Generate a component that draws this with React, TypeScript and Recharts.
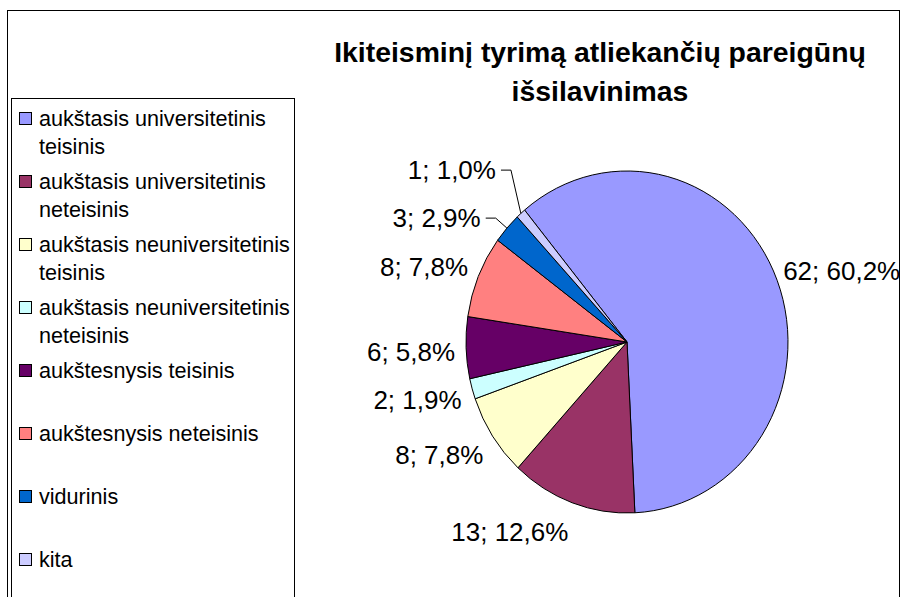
import React from 'react';
import { PieChart, Pie, Cell, Legend } from 'recharts';

const CATEGORIES = [
  'aukštasis universitetinis teisinis',
  'aukštasis universitetinis neteisinis',
  'aukštasis neuniversitetinis teisinis',
  'aukštasis neuniversitetinis neteisinis',
  'aukštesnysis teisinis',
  'aukštesnysis neteisinis',
  'vidurinis',
  'kita',
];
const COUNTS = [62, 13, 8, 2, 6, 8, 3, 1];
const COLORS = ['#9999FF', '#993366', '#FFFFCC', '#CCFFFF', '#660066', '#FF8080', '#0066CC', '#CCCCFF'];
const TITLE_LINES = ['Ikiteisminį tyrimą atliekančių pareigūnų', 'išsilavinimas'];

const FONT = '"Liberation Sans", Arial, sans-serif';
const CX = 627;
const CY = 342;
const RX = 161; // Excel stretched the pie a bit, so it is an ellipse
const RY = 171;
const START_ANGLE = 129.5;
const END_ANGLE = START_ANGLE - 360;
const LABEL_SIZE = 26;
const CLASH = 40;
const MIN_GAP = 48;

const pieData = CATEGORIES.map((name, i) => ({ name, value: COUNTS[i] }));

type Spot = {
  x: number;
  y: number;
  anchor: 'start' | 'end';
  c: number;
  s: number;
  ex: number;
  ey: number;
  lead: boolean;
  elbowX: number;
};

// outside-end labels, small neighbours get pulled out on a leader line
function placeLabels(): Spot[] {
  const total = COUNTS.reduce((a, b) => a + b, 0);
  let acc = 0;
  const spots: Spot[] = COUNTS.map((v) => {
    const mid = START_ANGLE + ((acc + v / 2) / total) * (END_ANGLE - START_ANGLE);
    acc += v;
    const r = (mid * Math.PI) / 180;
    const c = Math.cos(r);
    const s = Math.sin(r);
    const ex = CX + RX * c;
    const ey = CY - RY * s;
    const x = c < 0 ? ex + 11 * c : ex + 6;
    const y = ey - (s > 0 ? 34 : 28) * s + 3;
    return { c, s, ex, ey, x, y, anchor: c < 0 ? 'end' : 'start', lead: false, elbowX: 0 };
  });

  const left = spots.filter((p) => p.anchor === 'end').sort((a, b) => b.y - a.y);
  for (let k = 1; k < left.length; k++) {
    if (left[k - 1].y - left[k].y < CLASH) {
      left[k - 1].lead = true;
      left[k].lead = true;
    }
  }
  left.forEach((p) => {
    if (!p.lead) return;
    p.elbowX = CX + (RX + 15) * p.c;
    p.y = CY - (RY + 15) * p.s;
    p.x = p.elbowX - 15;
  });
  left.sort((a, b) => b.y - a.y);
  for (let k = 1; k < left.length; k++) {
    if (left[k - 1].y - left[k].y < MIN_GAP) left[k].y = left[k - 1].y - MIN_GAP;
  }
  return spots;
}

const SPOTS = placeLabels();

const fmt = (value: number, percent: number) =>
  `${value}; ${(percent * 100).toFixed(1).replace('.', ',')}%`;

const renderLabel = (props: any) => {
  const p = SPOTS[props.index];
  if (!p) return null;
  return (
    <g>
      {p.lead && (
        <polyline
          points={`${p.ex},${p.ey} ${p.elbowX},${p.y} ${p.elbowX - 10},${p.y}`}
          fill="none"
          stroke="#000"
          strokeWidth={1}
        />
      )}
      <text
        x={p.x}
        y={p.y + LABEL_SIZE * 0.358}
        textAnchor={p.anchor}
        fontSize={LABEL_SIZE}
        fontFamily={FONT}
        fill="#000"
      >
        {fmt(props.value, props.percent)}
      </text>
    </g>
  );
};

const EllipseSector = (props: any) => {
  const { cx, cy, outerRadius, startAngle, endAngle, fill } = props;
  const rx = outerRadius;
  const ry = (outerRadius * RY) / RX;
  const a0 = (startAngle * Math.PI) / 180;
  const a1 = (endAngle * Math.PI) / 180;
  const x0 = cx + rx * Math.cos(a0);
  const y0 = cy - ry * Math.sin(a0);
  const x1 = cx + rx * Math.cos(a1);
  const y1 = cy - ry * Math.sin(a1);
  const large = Math.abs(startAngle - endAngle) > 180 ? 1 : 0;
  return (
    <path
      d={`M${cx},${cy} L${x0},${y0} A${rx},${ry} 0 ${large} 1 ${x1},${y1} Z`}
      fill={fill}
      stroke="#000"
      strokeWidth={1}
      strokeLinejoin="round"
    />
  );
};

const LegendBox = () => (
  <div style={{ position: 'relative', width: '100%', height: '100%', fontFamily: FONT }}>
    {CATEGORIES.map((name, i) => (
      <div key={name}>
        <div
          style={{
            position: 'absolute',
            left: 7,
            top: 13 + 63 * i,
            width: 13,
            height: 13,
            boxSizing: 'border-box',
            border: '1px solid #000',
            background: COLORS[i],
          }}
        />
        <div
          style={{
            position: 'absolute',
            left: 27,
            top: 5.5 + 63 * i,
            width: 256,
            fontSize: 21.6,
            lineHeight: '28px',
            color: '#000',
          }}
        >
          {name}
        </div>
      </div>
    ))}
  </div>
);

export default function App() {
  return (
    <div
      style={{
        position: 'absolute',
        left: 0,
        top: 0,
        width: 902,
        height: 597,
        overflow: 'hidden',
        background: '#fff',
      }}
    >
      <div
        style={{
          position: 'absolute',
          left: 7,
          top: 10,
          width: 893,
          height: 620,
          boxSizing: 'border-box',
          border: '1px solid #000',
        }}
      />
      <div style={{ position: 'absolute', left: 0, top: 0 }}>
        <PieChart width={902} height={597} margin={{ top: 0, right: 0, bottom: 0, left: 0 }}>
          <Pie
            data={pieData}
            dataKey="value"
            nameKey="name"
            cx={CX}
            cy={CY}
            outerRadius={RX}
            innerRadius={0}
            startAngle={START_ANGLE}
            endAngle={END_ANGLE}
            stroke="#000"
            strokeWidth={1}
            shape={EllipseSector}
            label={renderLabel}
            labelLine={false}
            isAnimationActive={false}
          >
            {pieData.map((d, i) => (
              <Cell key={d.name} fill={COLORS[i]} />
            ))}
          </Pie>
          <Legend
            layout="vertical"
            align="center"
            verticalAlign="middle"
            content={<LegendBox />}
            wrapperStyle={{
              left: 11,
              top: 98,
              width: 284,
              height: 520,
              boxSizing: 'border-box',
              border: '1px solid #000',
              background: '#fff',
            }}
          />
        </PieChart>
      </div>
      <svg
        width={902}
        height={597}
        style={{ position: 'absolute', left: 0, top: 0, pointerEvents: 'none' }}
      >
        {TITLE_LINES.map((line, i) => (
          <text
            key={line}
            x={600}
            y={62 + 39 * i}
            textAnchor="middle"
            fontSize={28.4}
            fontWeight="bold"
            fontFamily={FONT}
            fill="#000"
          >
            {line}
          </text>
        ))}
      </svg>
    </div>
  );
}
